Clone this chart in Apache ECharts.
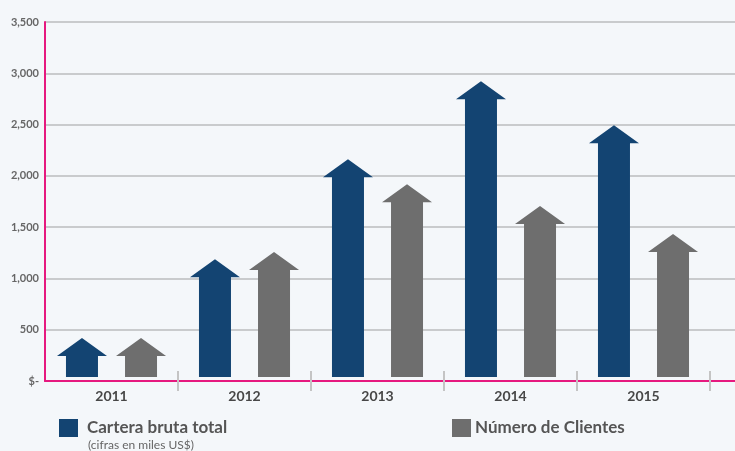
<!DOCTYPE html>
<html>
<head>
<meta charset="utf-8">
<script src="https://cdn.jsdelivr.net/npm/echarts@6/dist/echarts.min.js"></script>
<style>
html,body{margin:0;padding:0;background:#f4f7fa;}
#c{width:735px;height:451px;}
</style>
</head>
<body>
<div id="c"></div>
<script>
var years = ['2011', '2012', '2013', '2014', '2015'];
var cartera = [419, 1188, 2162, 2922, 2494];
var clientes = [419, 1257, 1919, 1705, 1432];
var yTicks = [0, 500, 1000, 1500, 2000, 2500, 3000, 3500];
var nameCartera = 'Cartera bruta total';
var nameClientes = 'Número de Clientes';
var subtitle = '(cifras en miles US$)';

var FONT = 'Lato, "DejaVu Sans", sans-serif';
var BLUE = '#134472';
var GREY = '#6e6e6e';

function arrowRender(offsetFrac, color) {
  return function (params, api) {
    var idx = api.value(0), v = api.value(1);
    var top = api.coord([idx, v]);
    var base = api.coord([idx, 0]);
    var bw = api.size([1, 0])[0];
    var cx = top[0] + offsetFrac * bw;
    var ty = top[1];
    var by = base[1] - 4;
    var hw = 25, sw = 16, hh = 18;
    return {
      type: 'polygon',
      shape: { points: [[cx, ty], [cx + hw, ty + hh], [cx + sw, ty + hh], [cx + sw, by], [cx - sw, by], [cx - sw, ty + hh], [cx - hw, ty + hh]] },
      style: { fill: color }
    };
  };
}

var chart = echarts.init(document.getElementById('c'));
chart.setOption({
  backgroundColor: '#f4f7fa',
  animation: false,
  grid: [
    { left: 45, right: 0, top: 22, bottom: 70 },
    { left: 45, width: 665, top: 22, bottom: 70 }
  ],
  xAxis: [
    { gridIndex: 0, type: 'value', min: 0, max: 1, axisLabel: { show: false }, axisTick: { show: false }, splitLine: { show: false },
      axisLine: { show: true, lineStyle: { color: '#e6197f', width: 2 } } },
    { gridIndex: 1, type: 'category', data: years, offset: -10, boundaryGap: true,
      axisLine: { show: false },
      axisTick: { show: true, length: 20, interval: function (i) { return i > 0; }, lineStyle: { color: '#c4c4c4', width: 2 } },
      axisLabel: { margin: 18, color: '#474747', fontSize: 14, fontWeight: 'bold', fontFamily: FONT } }
  ],
  yAxis: [
    { gridIndex: 0, type: 'value', min: 0, max: 3500, interval: 500,
      axisLine: { show: true, lineStyle: { color: '#e6197f', width: 2 } },
      axisTick: { show: false },
      splitLine: { show: true, lineStyle: { color: '#c9cbcd', width: 2 } },
      axisLabel: { margin: 6, color: '#666', fontSize: 11, fontWeight: 'bold', fontFamily: FONT, padding: [0, 0, 4, 0],
        formatter: function (v) { return v === 0 ? '$-' : v.toLocaleString('en-US'); } } },
    { gridIndex: 1, type: 'value', min: 0, max: 3500, interval: 500, show: false, splitLine: { show: false } }
  ],
  legend: [
    { data: [{ name: nameCartera, icon: 'rect' }], left: 59, top: 419, itemWidth: 19, itemHeight: 18, padding: 0,
      textStyle: { fontSize: 17, fontWeight: 'bold', color: '#555', fontFamily: FONT, padding: [0, 0, 0, 4] } },
    { data: [{ name: nameClientes, icon: 'rect' }], left: 452, top: 419, itemWidth: 19, itemHeight: 18, padding: 0,
      textStyle: { fontSize: 17, fontWeight: 'bold', color: '#555', fontFamily: FONT, padding: [0, 0, 0, -1] } }
  ],
  graphic: [
    { type: 'text', left: 88, top: 439, style: { text: subtitle, fontSize: 12, fill: '#666', fontFamily: FONT } }
  ],
  series: [
    { name: nameCartera, type: 'custom', xAxisIndex: 1, yAxisIndex: 1, itemStyle: { color: BLUE },
      renderItem: arrowRender(-0.222, BLUE), encode: { x: 0, y: 1 },
      data: years.map(function (y, i) { return [i, cartera[i]]; }) },
    { name: nameClientes, type: 'custom', xAxisIndex: 1, yAxisIndex: 1, itemStyle: { color: GREY },
      renderItem: arrowRender(0.222, GREY), encode: { x: 0, y: 1 },
      data: years.map(function (y, i) { return [i, clientes[i]]; }) }
  ]
});
</script>
</body>
</html>
